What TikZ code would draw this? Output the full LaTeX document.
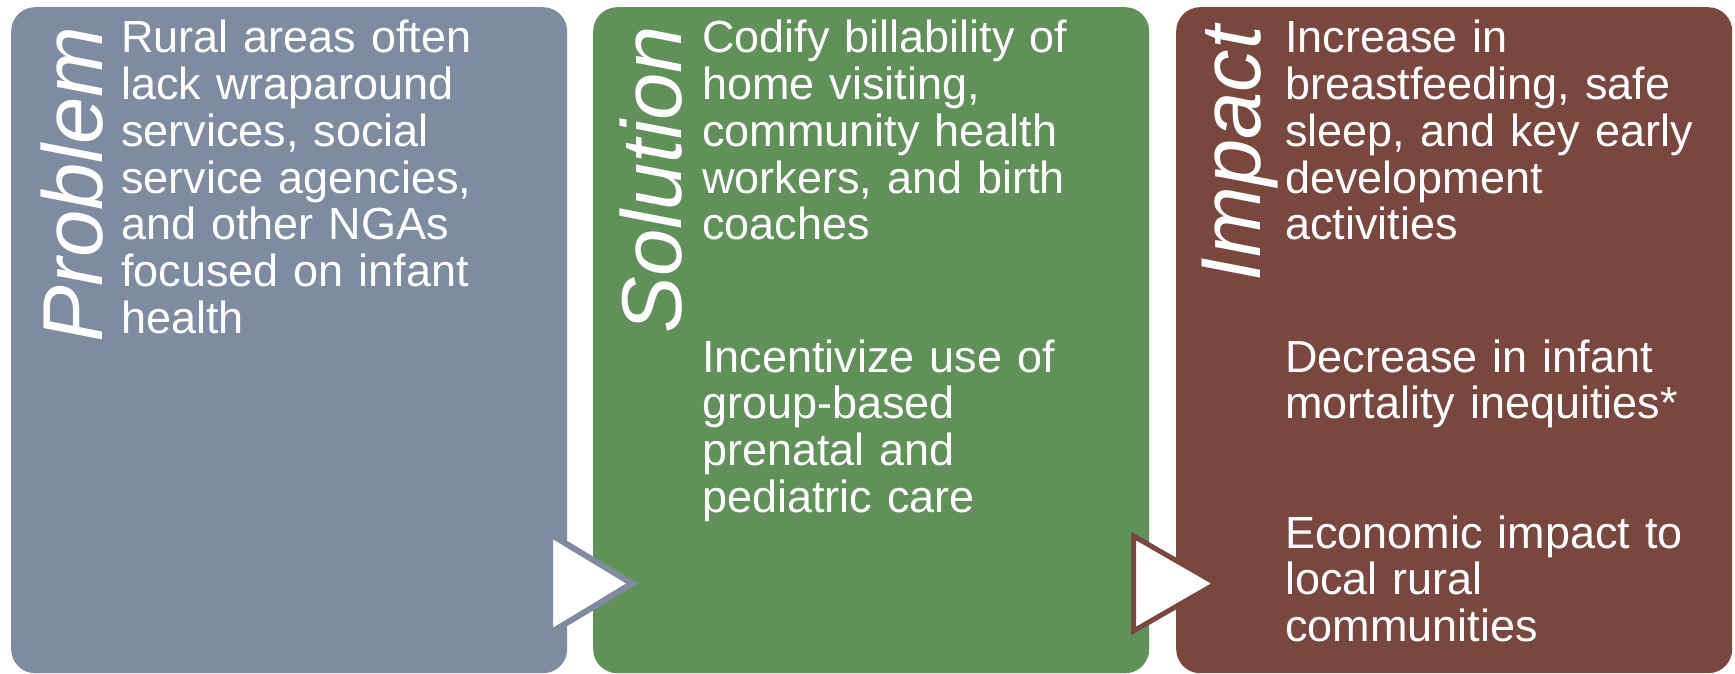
\documentclass[tikz,border=0pt]{standalone}
\usepackage{fontspec}
\setmainfont{Liberation Sans}
\definecolor{probgray}{HTML}{7F8CA0}
\definecolor{solgreen}{HTML}{5F9159}
\definecolor{impbrown}{HTML}{79473D}
\begin{document}
\begin{tikzpicture}[x=1pt,y=-1pt,
  panel/.style={draw=none, rounded corners=24pt, minimum width=556pt,
    minimum height=666pt, anchor=north west, inner sep=0pt},
  heading/.style={rotate=90, anchor=base east, inner sep=0pt, text=white,
    font=\fontsize{85}{90}\selectfont\itshape},
  body/.style={anchor=base west, inner sep=0pt, text=white, text width=440pt,
    align=left, font=\fontsize{45}{46.7}\selectfont},
  chevron/.style={fill=white, line join=miter}]
\useasboundingbox (0,0) rectangle (1735,674);

% three panels
\node[panel, fill=probgray] (problem)  at (11,7)   {};
\node[panel, fill=solgreen] (solution) at (593,7)  {};
\node[panel, fill=impbrown] (impact)   at (1176,7) {};

% vertical headings
\node[heading] (problemhead)  at (102,26)  {Problem};
\node[heading] (solutionhead) at (681,26)  {Solution};
\node[heading] (impacthead)   at (1260,26) {Impact};

% panel texts
\node[body] (problemtext) at (121,53) {Rural areas often\\ lack wraparound\\ services, social\\ service agencies,\\ and other NGAs\\ focused on infant\\ health};

\node[body] (solutionA) at (702,53) {Codify billability of\\ home visiting,\\ community health\\ workers, and birth\\ coaches};
\node[body] (solutionB) at (702,372) {Incentivize use of\\ group-based\\ prenatal and\\ pediatric care};

\node[body] (impactA) at (1285,53) {Increase in\\ breastfeeding, safe\\ sleep, and key early\\ development\\ activities};
\node[body] (impactB) at (1285,372) {Decrease in infant\\ mortality inequities*};
\node[body] (impactC) at (1285,548) {Economic impact to\\ local rural\\ communities};

% chevrons between the panels
\draw[chevron, draw=probgray, line width=6pt] (550,534) -- (632,583.5) -- (550,633) -- cycle;
\draw[chevron, draw=impbrown, line width=5pt] (1133.5,536) -- (1216,583.5) -- (1133.5,631) -- cycle;
\end{tikzpicture}
\end{document}
